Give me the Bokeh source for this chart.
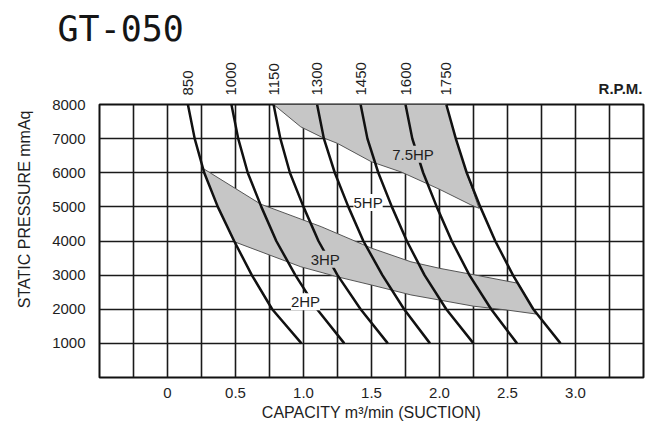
import math
from bokeh.plotting import figure
from bokeh.models import (FixedTicker, CustomJSTickFormatter, Label, Range1d, LinearAxis,
                          Title)
from bokeh.embed import file_html
from bokeh.resources import INLINE

# ---------------- data ----------------
pressure = [8000, 7000, 6000, 5000, 4000, 3000, 2000, 1000]          # mmAq
rpm = [850, 1000, 1150, 1300, 1450, 1600, 1750]
cap_850 = [0.15, 0.20, 0.27, 0.37, 0.49, 0.62, 0.77, 0.985]
cap_1000 = [0.47, 0.52, 0.59, 0.69, 0.80, 0.94, 1.10, 1.30]
cap_1150 = [0.78, 0.83, 0.90, 1.00, 1.11, 1.25, 1.42, 1.62]
cap_1300 = [1.10, 1.15, 1.23, 1.33, 1.44, 1.58, 1.74, 1.93]
cap_1450 = [1.42, 1.47, 1.55, 1.65, 1.76, 1.89, 2.05, 2.25]
cap_1600 = [1.75, 1.80, 1.88, 1.98, 2.09, 2.22, 2.38, 2.57]
cap_1750 = [2.05, 2.12, 2.20, 2.30, 2.41, 2.54, 2.69, 2.89]
curves = [cap_850, cap_1000, cap_1150, cap_1300, cap_1450, cap_1600, cap_1750]

band_low_q = [0.26, 0.685, 1.13, 1.50, 1.79, 2.0, 2.24, 2.58, 2.69, 2.71,
              2.50, 2.25, 2.0, 1.79, 1.50, 1.25, 0.98, 0.49, 0.37, 0.27, 0.26]
band_low_p = [6130, 5080, 4420, 3790, 3390, 3200, 3020, 2760, 2000, 1860,
              1975, 2090, 2270, 2420, 2710, 2950, 3245, 3980, 5000, 6000, 6130]
band_high_q = [0.78, 2.05, 2.12, 2.20, 2.29, 2.23, 2.0, 1.72, 1.50, 1.25, 1.13, 0.98, 0.78]
band_high_p = [8000, 8000, 7000, 6000, 4960, 5060, 5515, 6020, 6320, 6860, 7050, 7345, 8000]

hp_text = ["2HP", "3HP", "5HP", "7.5HP"]
hp_q = [1.015, 1.16, 1.475, 1.805]
hp_p = [2220, 3465, 5126, 6541]
hp_bg = ["white", "#c6c6c6", "white", "#c6c6c6"]

x_tick_vals = [0, 0.5, 1.0, 1.5, 2.0, 2.5, 3.0]
x_grid_vals = [-0.25, 0, 0.25, 0.5, 0.75, 1.0, 1.25, 1.5, 1.75, 2.0, 2.25, 2.5,
               2.75, 3.0, 3.25]
y_tick_vals = [1000, 2000, 3000, 4000, 5000, 6000, 7000, 8000]

FONT = "Liberation Sans"
TXT = "#1e1e1e"

# ---------------- figure ----------------
W, H = 661, 427
p = figure(width=W, height=H, output_backend="svg", toolbar_location=None,
           x_range=Range1d(-0.5, 3.5), y_range=Range1d(0, 8000),
           min_border_left=98, min_border_right=18, min_border_top=104,
           min_border_bottom=50)
p.background_fill_color = "white"
p.border_fill_color = "white"
p.outline_line_color = "#111111"
p.outline_line_width = 2

p.xgrid.ticker = FixedTicker(ticks=x_grid_vals)
p.ygrid.ticker = FixedTicker(ticks=y_tick_vals)
p.grid.grid_line_color = "#1a1a1a"
p.grid.grid_line_width = 1.6
p.grid.grid_line_alpha = 1.0

xax = p.xaxis[0]
yax = p.yaxis[0]
xax.ticker = FixedTicker(ticks=x_tick_vals)
xax.formatter = CustomJSTickFormatter(code="return tick == 0 ? '0' : tick.toFixed(1);")
yax.ticker = FixedTicker(ticks=y_tick_vals)

# RPM labels on a top axis, at the top end of each curve
top_q = [c[0] for c in curves]
rpm_axis = LinearAxis(ticker=FixedTicker(ticks=top_q),
                      formatter=CustomJSTickFormatter(
                          args=dict(qs=top_q, labels=[str(r) for r in rpm]),
                          code="const i = qs.findIndex(v => Math.abs(v - tick) < 1e-9);"
                               "return i >= 0 ? labels[i] : '';"),
                      major_label_orientation="vertical")
p.add_layout(rpm_axis, "above")

for ax in (xax, yax, rpm_axis):
    ax.axis_line_color = None
    ax.major_tick_line_color = None
    ax.minor_tick_line_color = None
    ax.major_tick_out = 0
    ax.major_tick_in = 0
    ax.major_label_text_font = FONT
    ax.major_label_text_font_size = "15px"
    ax.major_label_text_color = TXT
yax.major_label_standoff = 14
xax.major_label_standoff = 10
rpm_axis.major_label_standoff = 9
xax.axis_label = "CAPACITY m\u00b3/min (SUCTION)"
xax.axis_label_standoff = 3
xax.axis_label_text_font = FONT
xax.axis_label_text_font_size = "16px"
xax.axis_label_text_font_style = "normal"
xax.axis_label_text_color = TXT

# y axis title (left side panel)
p.add_layout(Title(text="STATIC PRESSURE mmAq", align="right", offset=6, standoff=30,
                   vertical_align="top", text_font=FONT, text_font_size="16px",
                   text_font_style="normal", text_color=TXT), "left")

# ---------------- absolutely placed texts in the top panel ----------------
try:
    Label(x_units="canvas")
    UNITS = "canvas"
except Exception:
    UNITS = "screen"


def cpos(x, y):
    if UNITS == "canvas":
        return x, y
    return x - 98, 377.5 - y


gx, gy = cpos(57, 28.5)
p.add_layout(Label(x=gx, y=gy, x_units=UNITS, y_units=UNITS, text="GT-050",
                   text_align="left", text_baseline="middle",
                   text_font="DejaVu Sans Mono", text_font_size="35px",
                   text_color="#151515"), "above")
rx, ry = cpos(642, 87.5)
p.add_layout(Label(x=rx, y=ry, x_units=UNITS, y_units=UNITS,
                   text="R.P.M.", text_align="right", text_baseline="middle",
                   text_font=FONT, text_font_size="15px", text_font_style="bold",
                   text_color=TXT), "above")

# ---------------- bands ----------------
p.patch(band_low_q, band_low_p, fill_color="#c6c6c6", line_color="#555555", line_width=1)
p.patch(band_high_q, band_high_p, fill_color="#c6c6c6", line_color="#555555", line_width=1)

# ---------------- rpm curves ----------------
for caps in curves:
    p.line(caps, pressure, line_color="#111111", line_width=2.5)

# ---------------- labels ----------------
for t, q, pr, bg in zip(hp_text, hp_q, hp_p, hp_bg):
    p.add_layout(Label(x=q, y=pr, text=t, text_align="center", text_baseline="middle",
                       text_font=FONT, text_font_size="15px", text_color=TXT,
                       background_fill_color=bg, background_fill_alpha=1))

open("out.html", "w").write(file_html(p, INLINE))
